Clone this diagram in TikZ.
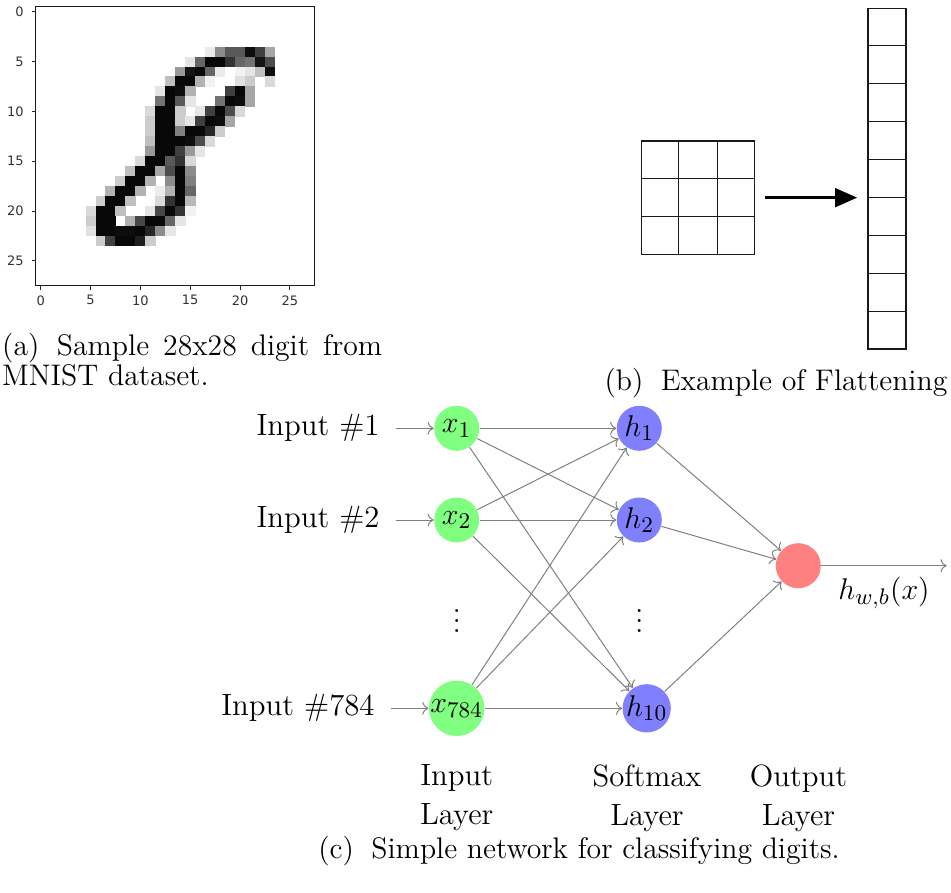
\documentclass[tikz,border=0pt]{standalone}
\usepackage{fontspec}
\newfontfamily\mplfont{DejaVu Sans}
\usetikzlibrary{arrows.meta,calc}

\newcommand\netfont{\fontsize{12.3}{15.6}\selectfont}
\newcommand\capfont{\fontsize{11.9}{14.3}\selectfont}
\newcommand\tickfont{\mplfont\fontsize{5.2}{6}\selectfont}

\begin{document}
\begin{tikzpicture}[x=0.4pt, y=-0.4pt,
  neuron/.style={circle, inner sep=0pt, minimum size=18pt, font=\netfont},
  inputneuron/.style={neuron, fill=green!50},
  hiddenneuron/.style={neuron, fill=blue!50},
  outputneuron/.style={neuron, fill=red!50},
  edge/.style={->, draw=black!50, line width=0.4pt},
  inlabel/.style={anchor=east, inner xsep=6.3pt, inner ysep=0pt, font=\netfont},
  layerlabel/.style={align=center, inner sep=0pt, font=\netfont},
  caption/.style={inner sep=0pt, font=\capfont},
  cellbox/.style={draw=black!90, line width=0.45pt, inner sep=0pt},
  cellline/.style={draw=black!90, line width=0.45pt},
  ticklabel/.style={inner sep=0pt, font=\tickfont, text=black!80}]

\useasboundingbox (0,0) rectangle (951,892);

% ---------- (a) the 28x28 digit as an image plot ----------
\begin{scope}[shift={(14.28pt,-2.68pt)}, x=3.988pt, y=-3.988pt]
  \foreach \r/\c/\v in {
    4/17/8,4/18/45,4/19/65,4/20/65,4/21/95,4/22/75,4/23/35,
    5/15/10,5/16/60,5/17/97,5/18/97,5/19/80,5/20/60,5/21/55,5/22/92,5/23/70,
    6/14/40,6/15/92,6/16/97,6/17/60,6/18/8,6/20/5,6/21/10,6/22/25,6/23/95,
    7/13/25,7/14/97,7/15/97,7/16/30,7/17/5,7/20/12,7/21/20,7/23/15,
    8/12/10,8/13/97,8/14/95,8/15/30,8/19/75,8/20/97,8/21/35,
    9/12/55,9/13/97,9/14/65,9/15/10,9/18/55,9/19/97,9/20/95,9/21/35,
    10/11/15,10/12/97,10/13/97,10/14/20,10/16/10,10/17/75,10/18/97,10/19/70,10/20/15,
    11/11/20,11/12/97,11/13/97,11/14/20,11/15/10,11/16/75,11/17/97,11/18/95,11/19/35,
    12/11/20,12/12/97,12/13/97,12/14/50,12/15/97,12/16/97,12/17/85,12/18/20,
    13/11/25,13/12/97,13/13/97,13/14/97,13/15/95,13/16/70,13/17/15,
    14/11/40,14/12/97,14/13/97,14/14/75,14/15/40,14/16/10,
    15/10/15,15/11/97,15/12/97,15/13/65,15/14/80,15/15/15,
    16/9/25,16/10/97,16/11/97,16/12/35,16/13/70,16/14/97,16/15/45,
    17/8/20,17/9/97,17/10/97,17/11/30,17/13/45,17/14/97,17/15/50,
    18/7/30,18/8/97,18/9/97,18/10/30,18/12/8,18/13/30,18/14/97,18/15/60,
    19/6/20,19/7/97,19/8/97,19/9/25,19/12/15,19/13/80,19/14/97,19/15/28,
    20/5/15,20/6/97,20/7/97,20/8/25,20/11/10,20/12/72,20/13/97,20/14/80,20/15/5,
    21/5/20,21/6/97,21/7/97,21/9/30,21/10/72,21/11/97,21/12/97,21/13/60,21/14/10,
    22/5/12,22/6/97,22/7/97,22/8/95,22/9/95,22/10/97,22/11/85,22/12/45,22/13/10,
    23/6/20,23/7/75,23/8/97,23/9/97,23/10/88,23/11/20}
    \fill[black!\v] (\c,\r) rectangle ++(1.03,1.03);
  \draw[black!90, line width=0.45pt] (0,0) rectangle (28,28);
  \foreach \t in {0,5,...,25} {
    \draw[black!85, line width=0.4pt] (\t+0.5,28) -- (\t+0.5,28.38);
    \node[ticklabel] at (\t+0.5,29.45) {\t};
    \draw[black!85, line width=0.4pt] (0,\t+0.5) -- (-0.38,\t+0.5);
    \node[ticklabel, anchor=east] at (-1.15,\t+0.5) {\t};
  }
\end{scope}

\node[caption, anchor=base west] (capa1) at (1.7,355)
  {\makebox[152pt][s]{(a)\hspace{7pt}Sample 28x28 digit from}};
\node[caption, anchor=base west] (capa2) at (1.7,385) {MNIST dataset.};

% ---------- (b) flattening a 3x3 grid into a column ----------
\node[cellbox, minimum width=45.36pt, minimum height=45.32pt] (grid) at (698,197.65) {};
\foreach \t in {1,2} {
  \draw[cellline] ($(grid.north west)!\t/3!(grid.north east)$) -- ($(grid.south west)!\t/3!(grid.south east)$);
  \draw[cellline] ($(grid.north west)!\t/3!(grid.south west)$) -- ($(grid.north east)!\t/3!(grid.south east)$);
}
\node[cellbox, minimum width=15.2pt, minimum height=136.28pt] (col) at (887,178.65) {};
\foreach \t in {1,...,8}
  \draw[cellline] ($(col.north west)!\t/9!(col.south west)$) -- ($(col.north east)!\t/9!(col.south east)$);
\draw[line width=1.2pt, -{Triangle[length=8.8pt, width=7.4pt]}]
  ([xshift=3.7pt]grid.east) -- ([xshift=-4.1pt]grid.east -| col.west);

\node[caption, anchor=base west] (capb) at (604,390) {(b)\hspace{7pt}Example of Flattening};

% ---------- (c) the network ----------
\node[inputneuron] (x1) at (456.7,428.3) {$x_1$};
\node[inputneuron] (x2) at (456.7,520) {$x_2$};
\node[inputneuron] (x784) at (456.7,708.3) {$x_{784}$};
\node[font=\netfont, inner sep=0pt] (xdots) at (456.7,614) {$\vdots$};

\node[hiddenneuron] (h1) at (639.3,428.3) {$h_1$};
\node[hiddenneuron] (h2) at (639.3,520) {$h_2$};
\node[hiddenneuron] (h10) at (646.7,708.3) {$h_{10}$};
\node[font=\netfont, inner sep=0pt] (hdots) at (639.3,614) {$\vdots$};

\node[outputneuron] (out) at (798.3,565.7) {};
\coordinate (outend) at (946.7,565.7);

\node[inlabel] (in1) at (395.7,428.3) {Input \#1};
\node[inlabel] (in2) at (395.7,520) {Input \#2};
\node[inlabel] (in784) at (390.7,708.3) {Input \#784};

\foreach \a/\b in {in1/x1, in2/x2, in784/x784}
  \draw[edge] (\a) -- (\b);
\foreach \a in {x1,x2,x784}
  \foreach \b in {h1,h2,h10}
    \draw[edge] (\a) -- (\b);
\foreach \b in {h1,h2,h10}
  \draw[edge] (\b) -- (out);
\draw[edge] (out) -- (outend) node[midway, below, yshift=-1pt, font=\netfont] {$h_{w,b}(x)$};

\node[layerlabel] (lin) at (456.7,798) {Input\\Layer};
\node[layerlabel] (lsoft) at (647,798) {Softmax\\Layer};
\node[layerlabel] (lout) at (798.5,798) {Output\\Layer};

\node[caption, anchor=base] (capc) at (579,858) {(c)\hspace{7pt}Simple network for classifying digits.};

\end{tikzpicture}
\end{document}
